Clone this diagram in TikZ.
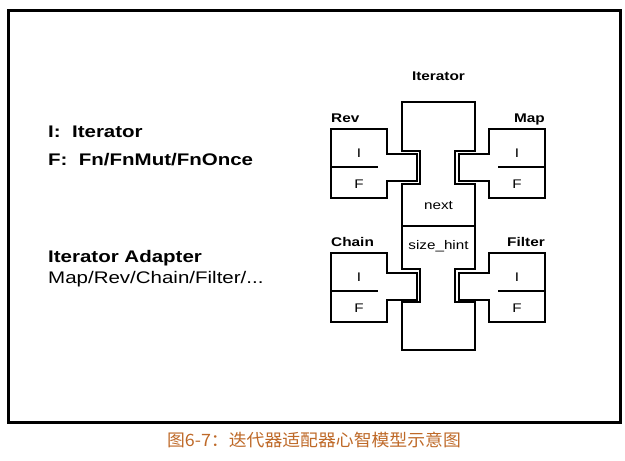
\documentclass[tikz,border=0pt]{standalone}
\usepackage{fontspec}
\setmainfont{Liberation Sans}[FakeStretch=1.22]
\newfontfamily\cjk{Noto Sans CJK SC}[FakeStretch=1.05]
\usepackage{xcolor}
\definecolor{capbrown}{RGB}{190,105,40}
\def\legendsize{\fontsize{16.8}{20}\selectfont}

\begin{document}
\begin{tikzpicture}[x=1pt,y=-1pt,
	iter/.style={line width=2.2pt,line join=miter},
	adapt/.style={line width=1.8pt,line join=miter},
	title/.style={font=\bfseries\fontsize{12.6}{14}\selectfont,inner sep=0pt},
	cell/.style={font=\fontsize{12.5}{14}\selectfont,inner sep=0pt,anchor=base},
	legend/.style={font=\legendsize,inner sep=0pt,anchor=base west}]
	\useasboundingbox (0,0) rectangle (625,461);
	\draw [line width=3pt] (8,10) rectangle (620,422);

	% legend on the left
	\node (legI) at (48,137) [legend] {\bfseries I:\ \ Iterator};
	\node (legF) at (48,165) [legend] {\bfseries F:\ \ Fn/FnMut/FnOnce};
	\node (adhead) at (48,262) [legend] {\bfseries Iterator Adapter};
	\node (adlist) at (48,283) [legend] {Map/Rev/Chain/Filter/...};

	% the iterator with its four notches
	\draw [iter] (402,102) -- (475,102) -- (475,151) -- (455,151) -- (455,184) -- (475,184)
		-- (475,269) -- (455,269) -- (455,302) -- (475,302) -- (475,350) -- (402,350)
		-- (402,302) -- (420,302) -- (420,269) -- (402,269) -- (402,184) -- (420,184)
		-- (420,151) -- (402,151) -- cycle;
	\draw [iter] (402,226) -- (475,226);
	\node (iter) at (438.5,80) [title,anchor=base] {Iterator};
	\node (next) at (438.5,209) [cell] {next};
	\node (hint) at (438.5,249) [cell] {size\_hint};

	% adapters plugged into the notches
	\foreach \nm/\xo/\d/\yt/\tb/\an in {Rev/331/1/129/25/west, Map/545/-1/129/25/east,
		Chain/331/1/253/20/west, Filter/545/-1/253/20/east} {
		\draw [adapt] (\xo,\yt) -- ++(56*\d,0) -- ++(0,\tb) -- ++(30*\d,0) -- ++(0,27)
			-- ++(-30*\d,0) -- (\xo+56*\d,\yt+69) -- (\xo,\yt+69) -- cycle;
		\draw [adapt] (\xo,\yt+38) -- ++(47*\d,0);
		\node (\nm) at (\xo,\yt-7) [title,anchor=base \an] {\nm};
		\node (\nm-I) at (\xo+28*\d,\yt+28) [cell] {I};
		\node (\nm-F) at (\xo+28*\d,\yt+59) [cell] {F};
	}

	\node (caption) at (314,440) [text=capbrown,inner sep=0pt] {\cjk\fontsize{17}{20}\selectfont 图6-7：迭代器适配器心智模型示意图};
\end{tikzpicture}
\end{document}
